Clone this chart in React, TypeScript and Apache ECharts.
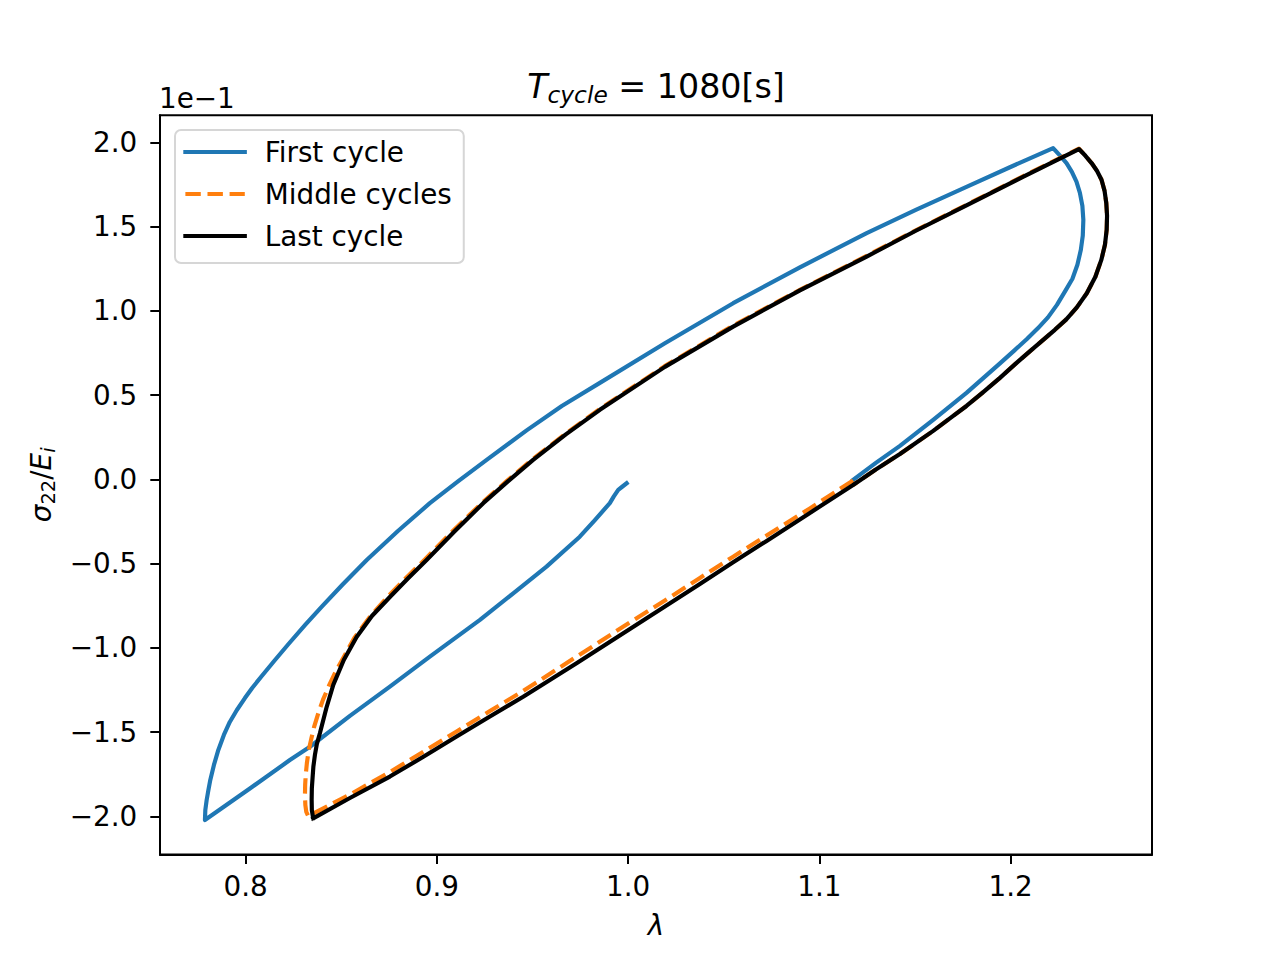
import React, { useEffect, useRef } from "react";
import * as echarts from "echarts";

// σ22/Ei values are stored as displayed on the axis (offset ×1e−1)
const firstCycle: [number, number][] = [
  [0.9992, -0.023], [0.9967, -0.045], [0.9948, -0.062], [0.9925, -0.101],
  [0.9904, -0.141], [0.9826, -0.241], [0.9747, -0.340], [0.9573, -0.518],
  [0.9399, -0.676], [0.9225, -0.834], [0.8963, -1.052], [0.8754, -1.230],
  [0.8545, -1.404], [0.8336, -1.587], [0.8231, -1.666], [0.8022, -1.835],
  [0.7787, -2.022],
  [0.7789, -1.963], [0.7796, -1.903], [0.7805, -1.844], [0.7815, -1.784],
  [0.7834, -1.695], [0.7857, -1.606], [0.7886, -1.517], [0.7917, -1.440],
  [0.7954, -1.369], [0.7996, -1.298], [0.8034, -1.238], [0.8080, -1.173],
  [0.8149, -1.078], [0.8224, -0.977], [0.8311, -0.864], [0.8398, -0.755],
  [0.8507, -0.624], [0.8633, -0.478], [0.8796, -0.306], [0.8963, -0.141],
  [0.9110, -0.012], [0.9260, 0.116], [0.9469, 0.291], [0.9653, 0.436],
  [0.9852, 0.573], [1.0192, 0.808], [1.0549, 1.046], [1.0898, 1.259],
  [1.1247, 1.462], [1.1504, 1.600], [1.1769, 1.737], [1.1996, 1.853],
  [1.2222, 1.967],
  [1.2257, 1.924], [1.2292, 1.878], [1.2320, 1.826], [1.2344, 1.767],
  [1.2362, 1.701], [1.2375, 1.624], [1.2380, 1.541], [1.2377, 1.446],
  [1.2367, 1.363], [1.2349, 1.274], [1.2323, 1.191], [1.2292, 1.131],
  [1.2242, 1.036], [1.2195, 0.962], [1.2142, 0.897], [1.2085, 0.834],
  [1.2017, 0.763], [1.1944, 0.689], [1.1769, 0.514], [1.1595, 0.353],
  [1.1421, 0.199], [1.1295, 0.098], [1.1176, -0.003],
];

const middleCycles: [number, number][] = [
  [1.1176, -0.006], [1.0950, -0.172], [1.0724, -0.333], [1.0547, -0.460],
  [1.0375, -0.585], [1.0192, -0.719], [1.0009, -0.849], [0.9732, -1.051],
  [0.9451, -1.256], [0.9277, -1.375], [0.9103, -1.496], [0.8927, -1.618],
  [0.8754, -1.737], [0.8545, -1.871], [0.8388, -1.963], [0.8327, -1.998],
  [0.8317, -1.974], [0.8312, -1.933], [0.8310, -1.874], [0.8311, -1.814],
  [0.8314, -1.755], [0.8320, -1.684], [0.8330, -1.606], [0.8344, -1.535],
  [0.8359, -1.464], [0.8380, -1.387], [0.8404, -1.309], [0.8435, -1.226],
  [0.8472, -1.137], [0.8516, -1.048], [0.8568, -0.941], [0.8649, -0.817],
  [0.8744, -0.695], [0.8838, -0.585], [0.8937, -0.475], [0.9083, -0.306],
  [0.9235, -0.140], [0.9366, -0.009], [0.9499, 0.119], [0.9672, 0.270],
  [0.9849, 0.416], [1.0189, 0.671], [1.0547, 0.912], [1.0898, 1.125],
  [1.1247, 1.327], [1.1504, 1.479], [1.1769, 1.630], [1.2059, 1.796],
  [1.2357, 1.963],
  [1.2391, 1.921], [1.2423, 1.878], [1.2451, 1.832], [1.2475, 1.779],
  [1.2491, 1.713], [1.2500, 1.640], [1.2504, 1.565], [1.2502, 1.482],
  [1.2493, 1.393], [1.2474, 1.303], [1.2443, 1.203], [1.2398, 1.105],
  [1.2346, 1.021], [1.2291, 0.950], [1.2231, 0.888], [1.2170, 0.828],
  [1.2100, 0.760], [1.2022, 0.683], [1.1944, 0.603], [1.1855, 0.517],
  [1.1769, 0.436], [1.1682, 0.362], [1.1595, 0.288], [1.1421, 0.151],
  [1.1295, 0.059], [1.1176, -0.033],
];

const lastCycle: [number, number][] = [
  [0.8353, -2.012], [0.8346, -1.963], [0.8345, -1.903], [0.8346, -1.832],
  [0.8350, -1.767], [0.8354, -1.705], [0.8362, -1.636], [0.8372, -1.571],
  [0.8388, -1.507], [0.8422, -1.357], [0.8458, -1.220], [0.8513, -1.072],
  [0.8580, -0.935], [0.8660, -0.811], [0.8754, -0.698], [0.8848, -0.588],
  [0.8946, -0.478], [0.9094, -0.306], [0.9242, -0.141], [0.9371, -0.012],
  [0.9503, 0.116], [0.9674, 0.267], [0.9852, 0.413], [1.0192, 0.668],
  [1.0549, 0.907], [1.0898, 1.122], [1.1247, 1.323], [1.1504, 1.476],
  [1.1769, 1.627], [1.2059, 1.793], [1.2357, 1.961],
  [1.2391, 1.921], [1.2423, 1.878], [1.2451, 1.832], [1.2475, 1.779],
  [1.2491, 1.713], [1.2500, 1.640], [1.2504, 1.565], [1.2502, 1.482],
  [1.2493, 1.393], [1.2474, 1.303], [1.2443, 1.203], [1.2398, 1.105],
  [1.2346, 1.021], [1.2291, 0.950], [1.2231, 0.888], [1.2170, 0.828],
  [1.2100, 0.760], [1.2022, 0.683], [1.1944, 0.603], [1.1855, 0.517],
  [1.1769, 0.436], [1.1682, 0.362], [1.1595, 0.288], [1.1421, 0.151],
  [1.1295, 0.059], [1.1176, -0.033],
  [1.0950, -0.199], [1.0724, -0.365], [1.0547, -0.493], [1.0375, -0.621],
  [1.0192, -0.754], [1.0009, -0.888], [0.9732, -1.090], [0.9451, -1.290],
  [0.9277, -1.407], [0.9103, -1.526], [0.8927, -1.648], [0.8754, -1.764],
  [0.8545, -1.891], [0.8353, -2.012],
];

const xTicks = [0.8, 0.9, 1.0, 1.1, 1.2];
const yTicks = [-2.0, -1.5, -1.0, -0.5, 0.0, 0.5, 1.0, 1.5, 2.0];
const seriesNames = ["First cycle", "Middle cycles", "Last cycle"];
const seriesColors = ["#1f77b4", "#ff7f0e", "#000000"];
const offsetText = "1e\u22121";

const FONT = "DejaVu Sans";
const FS = 27.8;

const fmt = (v: number) => v.toFixed(1).replace("-", "\u2212");

export default function App() {
  const ref = useRef<HTMLDivElement>(null);
  useEffect(() => {
    const chart = echarts.init(ref.current!, null, { renderer: "svg" });
    const lw = 4.17;
    const option: any = {
      animation: false,
      backgroundColor: "#ffffff",
      textStyle: { fontFamily: FONT },
      title: {
        text: "{it|T}{subit|cycle}{n| = 1080[s]}",
        left: 656,
        top: 66,
        textAlign: "center",
        padding: 0,
        textStyle: {
          fontWeight: "normal",
          rich: {
            it: { fontFamily: FONT, fontSize: 33.3, fontStyle: "italic", fontWeight: "normal", lineHeight: 40, color: "#000" },
            n: { fontFamily: FONT, fontSize: 33.3, fontWeight: "normal", lineHeight: 40, color: "#000" },
            subit: { fontFamily: FONT, fontSize: 23.3, fontStyle: "italic", fontWeight: "normal", lineHeight: 22, verticalAlign: "bottom", color: "#000" },
          },
        },
      },
      grid: {
        left: 160,
        top: 115.2,
        width: 992,
        height: 739.2,
        show: true,
        borderColor: "#000",
        borderWidth: 2,
        backgroundColor: "transparent",
        containLabel: false,
        outerBoundsMode: "none",
      },
      legend: {
        orient: "vertical",
        left: 175,
        top: 130,
        itemWidth: 59.4,
        itemHeight: 14,
        itemGap: 12,
        padding: [7, 12, 12, 8.3],
        backgroundColor: "#ffffff",
        borderColor: "#d6d6d6",
        borderWidth: 2,
        borderRadius: 6,
        itemStyle: { opacity: 0 },
        lineStyle: { width: lw },
        textStyle: { fontFamily: FONT, fontSize: FS, color: "#000", lineHeight: 30, padding: [0, 0, 0, 15] },
        data: seriesNames,
      },
      xAxis: {
        type: "value",
        min: 0.7552,
        max: 1.2739,
        name: "λ",
        nameLocation: "middle",
        nameGap: 54,
        nameTextStyle: { fontFamily: FONT, fontSize: FS, fontStyle: "italic", color: "#000", lineHeight: 34 },
        axisLine: { show: true, onZero: false, lineStyle: { color: "#000", width: 2 } },
        axisTick: { show: true, inside: false, length: 9.7, customValues: xTicks, lineStyle: { color: "#000", width: 2 } },
        axisLabel: { show: true, customValues: xTicks, formatter: fmt, fontFamily: FONT, fontSize: FS, color: "#000", margin: 15, lineHeight: 34 },
        splitLine: { show: false },
      },
      yAxis: {
        type: "value",
        min: -2.226,
        max: 2.162,
        name: "{it|σ}{sub|22}{n|/}{it|E}{subit|i}",
        nameLocation: "middle",
        nameGap: 97.6,
        nameTextStyle: {
          color: "#000",
          rich: {
            it: { fontFamily: FONT, fontSize: FS, fontStyle: "italic", lineHeight: 34, color: "#000" },
            n: { fontFamily: FONT, fontSize: FS, lineHeight: 34, color: "#000" },
            sub: { fontFamily: FONT, fontSize: 19.5, lineHeight: 20, verticalAlign: "bottom", color: "#000" },
            subit: { fontFamily: FONT, fontSize: 19.5, fontStyle: "italic", lineHeight: 20, verticalAlign: "bottom", color: "#000" },
          },
        },
        axisLine: { show: true, onZero: false, lineStyle: { color: "#000", width: 2 } },
        axisTick: { show: true, inside: false, length: 9.7, customValues: yTicks, lineStyle: { color: "#000", width: 2 } },
        axisLabel: { show: true, customValues: yTicks, formatter: fmt, fontFamily: FONT, fontSize: FS, color: "#000", margin: 22.7, padding: [5, 0, 0, 0] },
        splitLine: { show: false },
      },
      graphic: [
        {
          type: "text",
          x: 159,
          y: 98,
          style: { text: offsetText, fontFamily: FONT, fontSize: FS, fill: "#000", align: "left", verticalAlign: "middle" },
        },
      ],
      series: [
        {
          name: seriesNames[0],
          type: "line",
          data: firstCycle,
          symbol: "none",
          showSymbol: false,
          smooth: false,
          color: seriesColors[0],
          lineStyle: { color: seriesColors[0], width: lw, join: "round", cap: "square" },
          z: 2,
        },
        {
          name: seriesNames[1],
          type: "line",
          data: middleCycles,
          symbol: "none",
          showSymbol: false,
          smooth: false,
          color: seriesColors[1],
          lineStyle: { color: seriesColors[1], width: lw, type: [15.4, 6.7], join: "round", cap: "butt" },
          z: 3,
        },
        {
          name: seriesNames[2],
          type: "line",
          data: lastCycle,
          symbol: "none",
          showSymbol: false,
          smooth: false,
          color: seriesColors[2],
          lineStyle: { color: seriesColors[2], width: lw, join: "round", cap: "square" },
          z: 4,
        },
      ],
    };
    chart.setOption(option);
    return () => chart.dispose();
  }, []);
  return (
    <div
      ref={ref}
      style={{ position: "absolute", left: 0, top: 0, width: 1280, height: 960, background: "#fff" }}
    />
  );
}
